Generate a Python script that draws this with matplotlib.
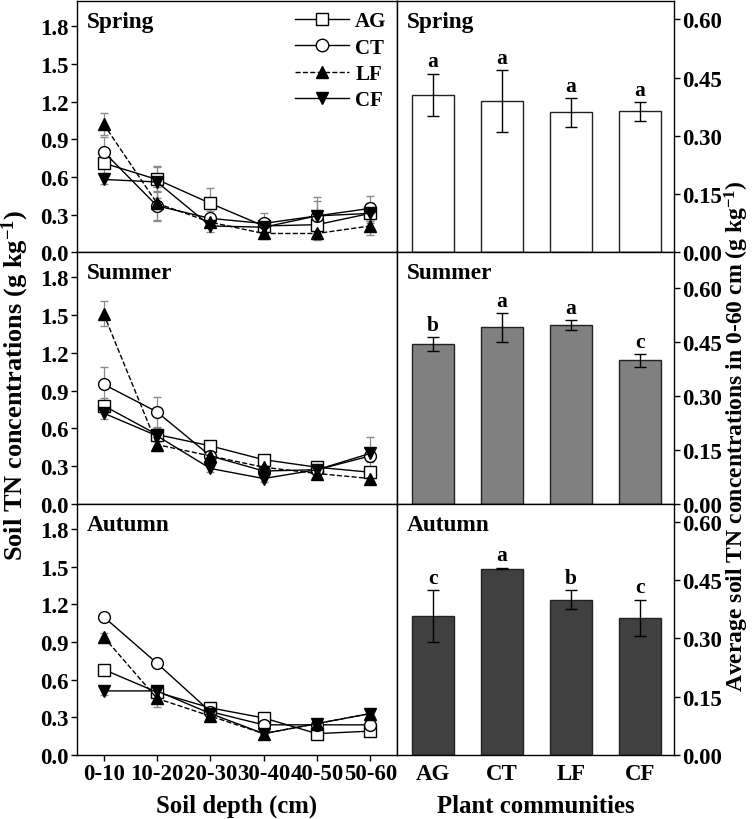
import numpy as np
import matplotlib
matplotlib.use("Agg")
from matplotlib import pyplot as plt
from matplotlib.lines import Line2D

plt.rcParams["font.family"] = ["Liberation Serif", "DejaVu Serif"]
plt.rcParams["font.weight"] = "bold"
plt.rcParams["mathtext.fontset"] = "custom"
plt.rcParams["mathtext.rm"] = "Liberation Serif:bold"
plt.rcParams["mathtext.default"] = "rm"

depths = ["0-10", "10-20", "20-30", "30-40", "40-50", "50-60"]
communities = ["AG", "CT", "LF", "CF"]
seasons = ["Spring", "Summer", "Autumn"]

# soil TN by depth (g kg-1), per season and community
spring_tn = {
    "AG": [0.71, 0.58, 0.39, 0.21, 0.22, 0.31],
    "CT": [0.80, 0.37, 0.27, 0.23, 0.29, 0.35],
    "LF": [1.02, 0.39, 0.24, 0.15, 0.15, 0.21],
    "CF": [0.58, 0.56, 0.21, 0.20, 0.29, 0.31],
}
spring_err = {
    "AG": [0.08, 0.10, 0.12, 0.05, 0.06, 0.06],
    "CT": [0.12, 0.12, 0.06, 0.08, 0.15, 0.10],
    "LF": [0.09, 0.13, 0.04, 0.04, 0.05, 0.07],
    "CF": [0.04, 0.13, 0.05, 0.06, 0.12, 0.08],
}
summer_tn = {
    "AG": [0.78, 0.55, 0.46, 0.35, 0.29, 0.25],
    "CT": [0.95, 0.73, 0.38, 0.26, 0.27, 0.38],
    "LF": [1.51, 0.47, 0.38, 0.29, 0.24, 0.20],
    "CF": [0.72, 0.54, 0.28, 0.20, 0.27, 0.40],
}
summer_err = {
    "AG": [0.06, 0.05, 0.03, 0.03, 0.03, 0.04],
    "CT": [0.14, 0.12, 0.03, 0.03, 0.03, 0.05],
    "LF": [0.10, 0.05, 0.04, 0.04, 0.03, 0.03],
    "CF": [0.05, 0.04, 0.03, 0.03, 0.03, 0.13],
}
autumn_tn = {
    "AG": [0.68, 0.50, 0.375, 0.295, 0.17, 0.19],
    "CT": [1.10, 0.73, 0.345, 0.24, 0.24, 0.24],
    "LF": [0.94, 0.45, 0.31, 0.17, 0.25, 0.33],
    "CF": [0.51, 0.51, 0.33, 0.17, 0.25, 0.33],
}
autumn_err = {
    "AG": [0.03, 0.03, 0.03, 0.03, 0.02, 0.02],
    "CT": [0.02, 0.03, 0.02, 0.02, 0.02, 0.02],
    "LF": [0.03, 0.07, 0.03, 0.03, 0.03, 0.03],
    "CF": [0.03, 0.04, 0.03, 0.03, 0.03, 0.03],
}

# average TN in 0-60 cm
spring_avg = [0.405, 0.39, 0.36, 0.363]
spring_avg_err = [0.055, 0.079, 0.037, 0.024]
spring_letters = ["a", "a", "a", "a"]
summer_avg = [0.444, 0.491, 0.498, 0.399]
summer_avg_err = [0.019, 0.04, 0.013, 0.018]
summer_letters = ["b", "a", "a", "c"]
autumn_avg = [0.357, 0.48, 0.40, 0.353]
autumn_avg_err = [0.067, 0.002, 0.024, 0.047]
autumn_letters = ["c", "a", "b", "c"]

line_data = [(spring_tn, spring_err), (summer_tn, summer_err), (autumn_tn, autumn_err)]
bar_data = [
    (spring_avg, spring_avg_err, spring_letters, "white", 0.647),
    (summer_avg, summer_avg_err, summer_letters, "#808080", 0.70),
    (autumn_avg, autumn_avg_err, autumn_letters, "#404040", 0.647),
]

styles = {
    "AG": dict(marker="s", mfc="white", ls="-"),
    "CT": dict(marker="o", mfc="white", ls="-"),
    "LF": dict(marker="^", mfc="black", ls="--"),
    "CF": dict(marker="v", mfc="black", ls="-"),
}

fig = plt.figure(figsize=(7.52, 8.2), dpi=100)
W, H = 752.0, 820.0
top_px, bottom_px = 2.0, 756.0
row_h = (bottom_px - top_px) / 3
tick_fs = 16.5
title_fs = 16.8

for i, season in enumerate(seasons):
    y0 = 1 - (top_px + (i + 1) * row_h) / H
    axl = fig.add_axes([77 / W, y0, 320 / W, row_h / H])
    axr = fig.add_axes([397 / W, y0, 277 / W, row_h / H])

    tn, err = line_data[i]
    x = np.arange(len(depths))
    for c in communities:
        st = styles[c]
        axl.errorbar(x, tn[c], yerr=err[c], color="black", ecolor="#8a8a8a",
                     elinewidth=0.9, capsize=3, capthick=0.9, lw=1.0,
                     ls=st["ls"], marker=st["marker"], mfc=st["mfc"],
                     mec="black", ms=8.5, mew=1.0)
    axl.set_xlim(-0.5, 5.5)
    axl.set_ylim(0, 2.0)
    axl.set_yticks(np.arange(0, 1.81, 0.3))
    axl.set_yticklabels([f"{v:.1f}" for v in np.arange(0, 1.81, 0.3)], fontsize=tick_fs)
    axl.text(0.03, 0.96, season, transform=axl.transAxes, fontsize=title_fs,
             fontweight="bold", va="top", ha="left")
    if i == 2:
        axl.set_xticks(x)
        axl.set_xticklabels(depths, fontsize=tick_fs)
        axl.set_xlabel("Soil depth (cm)", fontsize=17.8, fontweight="bold", labelpad=7)
    else:
        axl.set_xticks([])
    axl.tick_params(direction="out", length=4, width=1, pad=2)

    if i == 0:
        handles = [Line2D([], [], color="black", ls=styles[c]["ls"], marker=styles[c]["marker"],
                          mfc=styles[c]["mfc"], mec="black", ms=9, lw=1.0) for c in communities]
        axl.legend(handles, communities, loc="upper right", frameon=False, fontsize=15,
                   handlelength=2.6, handletextpad=0.3, labelspacing=0.3,
                   borderaxespad=0.35, borderpad=0.15)

    avg, aerr, letters, color, ytop = bar_data[i]
    xb = np.arange(len(communities))
    axr.bar(xb, avg, width=0.6, color=color, edgecolor="#222222", linewidth=1.0)
    axr.errorbar(xb, avg, yerr=aerr, fmt="none", ecolor="black", elinewidth=1.0,
                 capsize=4, capthick=1.0)
    for xi, v, e, lab in zip(xb, avg, aerr, letters):
        axr.text(xi, v + e + 0.006, lab, ha="center", va="bottom", fontsize=15.5,
                 fontweight="bold")
    axr.set_xlim(-0.52, 3.49)
    axr.set_ylim(0, ytop)
    axr.yaxis.tick_right()
    axr.set_yticks(np.arange(0, 0.61, 0.15))
    axr.set_yticklabels([f"{v:.2f}" for v in np.arange(0, 0.61, 0.15)], fontsize=tick_fs)
    axr.text(0.035, 0.96, season, transform=axr.transAxes, fontsize=title_fs,
             fontweight="bold", va="top", ha="left")
    if i == 2:
        axr.set_xticks(xb)
        axr.set_xticklabels(communities, fontsize=tick_fs)
        axr.set_xlabel("Plant communities", fontsize=17.8, fontweight="bold", labelpad=7)
        axr.tick_params(axis="x", length=0, pad=6)
    else:
        axr.set_xticks([])
    axr.tick_params(axis="y", direction="out", length=4, width=1, pad=2)

    for ax in (axl, axr):
        for sp in ax.spines.values():
            sp.set_linewidth(1.0)

fig.text(15 / W, 1 - 385 / H, r"Soil TN concentrations (g kg$^{-1}$)", rotation=90,
         ha="center", va="center", fontsize=19, fontweight="bold")
fig.text(737 / W, 1 - 436 / H, r"Average soil TN concentrations in 0-60 cm (g kg$^{-1}$)",
         rotation=90, ha="center", va="center", fontsize=17, fontweight="bold")

fig.savefig("out.png", dpi=100)
